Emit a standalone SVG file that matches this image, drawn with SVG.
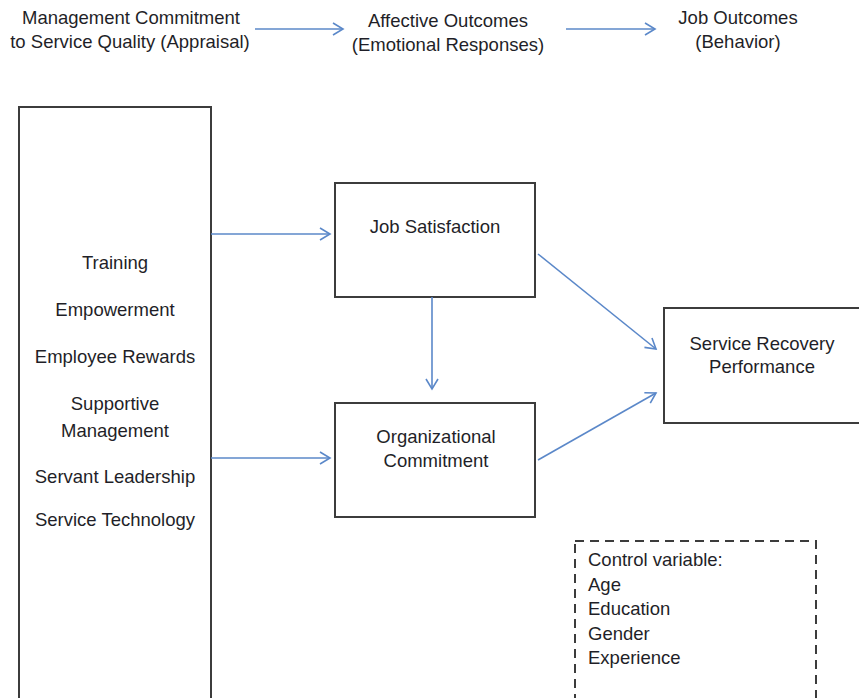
<svg xmlns="http://www.w3.org/2000/svg" width="859" height="698" viewBox="0 0 859 698">
<defs>
<marker id="arr" markerUnits="userSpaceOnUse" markerWidth="14" markerHeight="16" refX="11" refY="7" orient="auto">
<path d="M1,1 L11,7 L1,13" fill="none" stroke="#5b88c9" stroke-width="1.6"/>
</marker>
</defs>
<style>
text{font-family:"Liberation Sans",Arial,sans-serif;font-size:18.5px;fill:#1f1f28}
.c{text-anchor:middle}
.box{fill:#fff;stroke:#3c3c3c;stroke-width:2}
.dash{fill:none;stroke:#3c3c3c;stroke-width:2;stroke-dasharray:9,6}
.con{fill:none;stroke:#5b88c9;stroke-width:1.6;marker-end:url(#arr)}
</style>
<rect width="859" height="698" fill="#fff"/>
<g id="header">
<text class="c" x="131" y="24">Management Commitment</text>
<text class="c" x="130" y="48">to Service Quality (Appraisal)</text>
<text class="c" x="448" y="27">Affective Outcomes</text>
<text class="c" x="448" y="51">(Emotional Responses)</text>
<text class="c" x="738" y="24">Job Outcomes</text>
<text class="c" x="738" y="48">(Behavior)</text>
</g>
<g id="antecedents">
<rect class="box" x="19" y="107" width="192" height="600"/>
<text class="c" x="115" y="269">Training</text>
<text class="c" x="115" y="316">Empowerment</text>
<text class="c" x="115" y="363">Employee Rewards</text>
<text class="c" x="115" y="410">Supportive</text>
<text class="c" x="115" y="437">Management</text>
<text class="c" x="115" y="483">Servant Leadership</text>
<text class="c" x="115" y="526">Service Technology</text>
</g>
<g id="job-satisfaction">
<rect class="box" x="335" y="183" width="200" height="114"/>
<text class="c" x="435" y="233">Job Satisfaction</text>
</g>
<g id="organizational-commitment">
<rect class="box" x="335" y="403" width="200" height="114"/>
<text class="c" x="436" y="443">Organizational</text>
<text class="c" x="436" y="467">Commitment</text>
</g>
<g id="service-recovery">
<rect class="box" x="664" y="308" width="210" height="115"/>
<text class="c" x="762" y="350">Service Recovery</text>
<text class="c" x="762" y="373">Performance</text>
</g>
<g id="control-variables">
<rect class="dash" x="575" y="541" width="241" height="170"/>
<text x="588" y="566">Control variable:</text>
<text x="588" y="591">Age</text>
<text x="588" y="615">Education</text>
<text x="588" y="640">Gender</text>
<text x="588" y="664">Experience</text>
</g>
<g id="connectors">
<line class="con" x1="255" y1="29" x2="343" y2="29"/>
<line class="con" x1="566" y1="29" x2="655" y2="29"/>
<line class="con" x1="211" y1="234" x2="330" y2="234"/>
<line class="con" x1="211" y1="458" x2="330" y2="458"/>
<line class="con" x1="432" y1="297" x2="432" y2="389"/>
<line class="con" x1="538" y1="254" x2="656" y2="349"/>
<line class="con" x1="538" y1="460" x2="656" y2="393"/>
</g>
</svg>
